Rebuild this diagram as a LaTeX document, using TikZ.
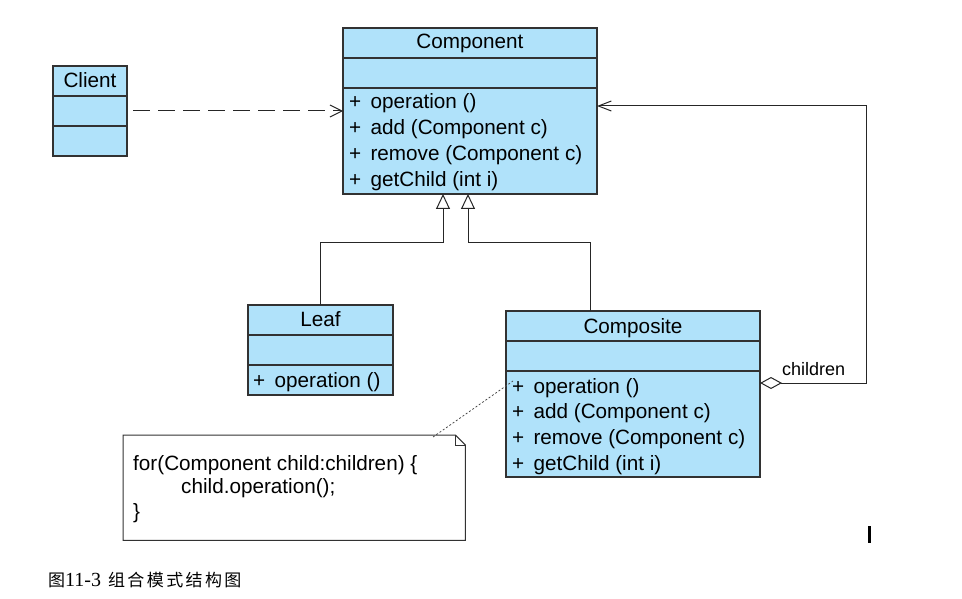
\documentclass[tikz,border=0pt]{standalone}
\usepackage{fontspec}
\setmainfont{Liberation Sans}
\newfontfamily\cjk[LetterSpace=14]{Noto Sans CJK SC}
\newfontfamily\capnum{Liberation Serif}
\usetikzlibrary{arrows.meta,calc}
\definecolor{umlfill}{RGB}{176,226,250}
\definecolor{umlline}{RGB}{50,50,50}
\tikzset{
  cls/.style={draw=umlline, fill=umlfill, line width=1.2pt, anchor=north west, inner sep=0pt, outer sep=0pt},
  txt/.style={anchor=base west, inner sep=0pt, font=\fontsize{20.7}{24}\selectfont, text=black},
  ttl/.style={anchor=base, inner sep=0pt, font=\fontsize{20.7}{24}\selectfont, text=black},
  div/.style={draw=umlline, line width=1.2pt},
  conn/.style={draw=black!85, line width=1pt},
  gen/.style={conn, -{Triangle[open, length=15pt, width=14pt, fill=white]}},
}
\newcommand{\pl}{+\hspace{0.45em}}
\begin{document}
\begin{tikzpicture}[x=1pt,y=-1pt]
\useasboundingbox (0,0) rectangle (962,599);

% Component
\node[cls, minimum width=254pt, minimum height=166pt] (comp) at (343,28) {};
\draw[div] (343,58) -- (597,58) (343,88) -- (597,88);
\node[ttl] (compT) at (470,49) {Component};
\node[txt] (c1) at (349,109) {\pl operation ()};
\node[txt] (c2) at (349,135) {\pl add (Component c)};
\node[txt] (c3) at (349,161) {\pl remove (Component c)};
\node[txt] (c4) at (349,187) {\pl getChild (int i)};

% Client
\node[cls, minimum width=74pt, minimum height=90pt] (client) at (53,66) {};
\draw[div] (53,96) -- (127,96) (53,126) -- (127,126);
\node[ttl] (clientT) at (90,88) {Client};

% Leaf
\node[cls, minimum width=145pt, minimum height=90pt] (leaf) at (248,305) {};
\draw[div] (248,335) -- (393,335) (248,365) -- (393,365);
\node[ttl] (leafT) at (320.5,326) {Leaf};
\node[txt] (l1) at (253,387) {\pl operation ()};

% Composite
\node[cls, minimum width=254pt, minimum height=166pt] (compo) at (506,311) {};
\draw[div] (506,341) -- (760,341) (506,371) -- (760,371);
\node[ttl] (compoT) at (633,333) {Composite};
\node[txt] (k1) at (512,393) {\pl operation ()};
\node[txt] (k2) at (512,418) {\pl add (Component c)};
\node[txt] (k3) at (512,444) {\pl remove (Component c)};
\node[txt] (k4) at (512,470) {\pl getChild (int i)};

% Note
\node[inner sep=0pt, minimum width=342pt, minimum height=105pt, anchor=north west] (note) at (123,435) {};
\draw[draw=umlline, line width=1pt, fill=white]
  (note.north west) -- ([xshift=-10pt]note.north east) -- ([yshift=-10pt]note.north east)
  -- (note.south east) -- (note.south west) -- cycle;
\draw[draw=umlline, line width=0.8pt]
  ([xshift=-10pt]note.north east) -- ([xshift=-10pt,yshift=-10pt]note.north east) -- ([yshift=-10pt]note.north east);
\node[txt] (n1) at (133,470) {for(Component child:children) \{};
\node[txt] (n2) at (181,493) {child.operation();};
\node[txt] (n3) at (133,518) {\}};

% note link
\coordinate (noteA) at (433,437);
\coordinate (compoA) at (513,381);
\draw[draw=black!70, line width=0.8pt, dash pattern=on 2pt off 2pt] (noteA) -- (compoA);

% dependency Client -> Component
\draw[conn, dash pattern=on 17pt off 8pt, shorten <=6pt,
  -{Straight Barb[length=12pt, width=12pt]}] (client.east) -- (comp.west |- client.east);

% generalizations
\draw[gen] (leaf.north) -- (leaf.north |- 0,242) -- ([xshift=-27pt]comp.south |- 0,242) -- ([xshift=-27pt]comp.south);
\draw[gen] ([xshift=-43pt]compo.north) -- ([xshift=-43pt]compo.north |- 0,242) -- ([xshift=-2pt]comp.south |- 0,242) -- ([xshift=-2pt]comp.south);

% aggregation
\draw[conn, {Diamond[open, length=22pt, width=12pt, fill=white]}-{Straight Barb[length=13pt, width=10pt]}]
  ([yshift=11pt]compo.east) -- (866,383) -- (866,106) -- ([yshift=5pt]comp.east);
\node[anchor=base west, inner sep=0pt, font=\fontsize{18}{22}\selectfont] (child) at (782,375) {children};

% stray mark
\fill[black] (868,526) rectangle (871,543);

% caption
\node[anchor=base west, inner sep=0pt, font=\cjk\fontsize{17}{20}\selectfont] (cap) at (48,586)
  {图{\capnum\fontsize{20}{20}\selectfont 11-3}\hspace{7pt}组合模式结构图};
\end{tikzpicture}
\end{document}
